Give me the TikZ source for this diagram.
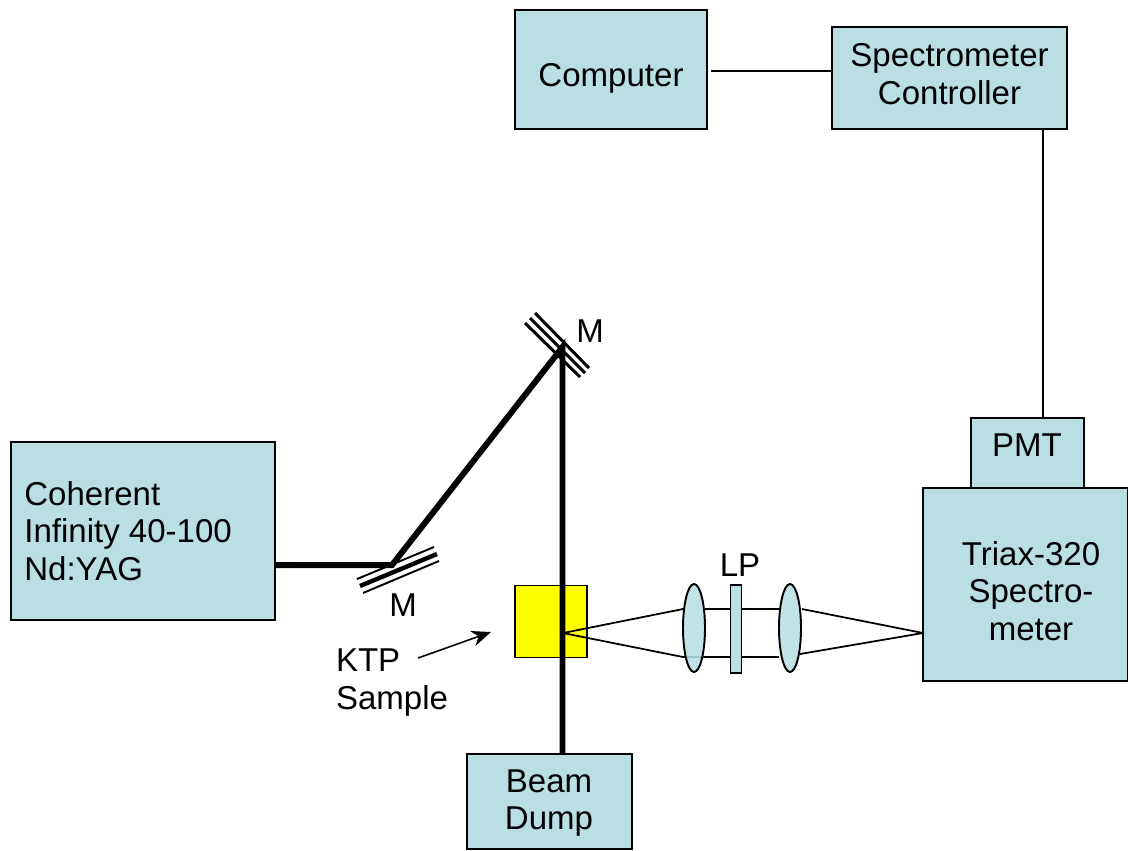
\documentclass[tikz,border=0pt]{standalone}
\usepackage{fontspec}
\setmainfont{Liberation Sans}
\usetikzlibrary{shapes.geometric,arrows.meta}
\definecolor{boxblue}{HTML}{B9DFE3}
\definecolor{samplecol}{HTML}{FFFF00}
\tikzset{
	labeltext/.style={font=\fontsize{18.8}{21.5}\selectfont,inner sep=0pt,align=center},
	unitbox/.style={draw=black,fill=boxblue,line width=0.7pt,inner sep=0pt},
	beam/.style={line width=3.4pt,line join=miter},
	ray/.style={line width=1pt},
	wire/.style={line width=0.9pt},
	lens/.style={draw=black,fill=boxblue,fill opacity=0.88,ellipse,line width=1.1pt,inner sep=0pt,minimum width=0.44cm,minimum height=1.76cm}
}
\begin{document}
\begin{tikzpicture}[x=0.02cm,y=-0.02cm]
	\useasboundingbox (0,0) rectangle (1128,850);
	% boxes
	\node[unitbox,minimum width=3.84cm,minimum height=2.38cm] (computer) at (611,69.5) {};
	\node[unitbox,minimum width=4.7cm,minimum height=2.04cm] (controller) at (949.5,78) {};
	\node[unitbox,minimum width=2.26cm,minimum height=1.4cm] (pmt) at (1027.5,453) {};
	\node[unitbox,minimum width=4.1cm,minimum height=3.86cm] (triax) at (1025.5,584.5) {};
	\node[unitbox,minimum width=5.28cm,minimum height=3.56cm] (laser) at (143,531) {};
	\node[unitbox,minimum width=3.3cm,minimum height=1.9cm] (dump) at (549.5,801.5) {};
	% box labels
	\node[labeltext] (computerlabel) at (611,78) {Computer};
	\node[labeltext] (controllerlabel) at (949.5,74.5) {Spectrometer\\Controller};
	\node[labeltext] (pmtlabel) at (1027,445) {PMT};
	\node[labeltext] (triaxlabel) at (1031,591) {Triax-320\\Spectro-\\meter};
	\node[labeltext,align=left,anchor=west] (laserlabel) at (24,531) {Coherent\\Infinity 40-100\\Nd:YAG};
	\node[labeltext] (dumplabel) at (549,803) {Beam\\Dump};
	% sample
	\node[draw=black,fill=samplecol,line width=0.7pt,minimum size=1.44cm,inner sep=0pt] (sample) at (551,621.5) {};
	% mirrors
	\coordinate (turnA) at (392,565);
	\coordinate (turnB) at (562.5,347);
	\draw[line width=1.1pt] (357,579) -- (434,547);
	\draw[line width=2.5pt] (360,586) -- (437,554);
	\draw[line width=1.1pt] (363,593) -- (439,561);
	\draw[line width=1.7pt] (535,313) -- (589,368);
	\draw[line width=1.7pt] (530,318) -- (585,373);
	\draw[line width=1.7pt] (525,323) -- (580,377);
	% beam path
	\draw[beam] (laser.east |- turnA) -- (turnA) -- (turnB) -- (turnB |- dump.north);
	% collection rays
	\coordinate (spot) at (563,633);
	\coordinate (slit) at (923,633);
	\draw[ray] (spot) -- (683,609);
	\draw[ray] (spot) -- (683,657) -- (779,657);
	\draw[ray] (704,609) -- (779,609);
	\node[lens] (lensA) at (694,628) {};
	\node[lens] (lensB) at (790,628) {};
	\node[draw=black,fill=boxblue,line width=0.7pt,minimum width=0.22cm,minimum height=1.76cm,inner sep=0pt] (filter) at (736,629) {};
	\draw[ray] (802,609) -- (slit);
	\draw[ray] (800,654) -- (slit);
	% wires
	\coordinate (compout) at (711,71);
	\coordinate (pmtin) at (1043,418);
	\draw[wire] (compout) -- (compout -| controller.west);
	\draw[wire] (controller.south -| pmtin) -- (pmtin);
	% labels
	\node[labeltext] (mirrorB) at (590,331) {M};
	\node[labeltext] (mirrorA) at (403,605) {M};
	\node[labeltext] (lp) at (740,565) {LP};
	\node[labeltext,align=left] (ktp) at (392,682.5) {KTP\\Sample};
	\coordinate (ktptail) at (418,658);
	\coordinate (ktptip) at (491,632);
	\draw[wire,-{Stealth[length=11pt,width=9pt]}] (ktptail) -- (ktptip);
\end{tikzpicture}
\end{document}
